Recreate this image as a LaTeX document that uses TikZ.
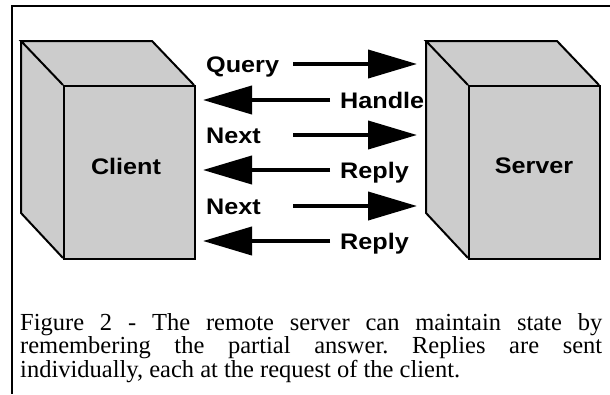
\documentclass[tikz,border=0pt]{standalone}
\usepackage{fontspec}
\setmainfont{Liberation Serif}
\newfontfamily\labfont[FakeStretch=1.12]{Liberation Sans}
\usetikzlibrary{arrows.meta}
\definecolor{boxgray}{HTML}{CCCCCC}
\begin{document}
\begin{tikzpicture}[x=1pt,y=-1pt,
  frame/.style={line width=2.8pt},
  edge/.style={line width=2pt, line join=miter},
  face/.style={draw, line width=2pt, fill=boxgray, inner sep=0pt,
    minimum width=131pt, minimum height=173pt, anchor=north west},
  lab/.style={font=\labfont\bfseries\fontsize{22.5}{26}\selectfont, inner sep=0pt},
  arr/.style={line width=4pt, -{Triangle[length=49pt,width=28pt]}},
]
\useasboundingbox (0,0) rectangle (610,394);
% frame
\draw[frame] (610,6) -- (12,6) -- (12,394);
% client cube
\fill[boxgray] (21,41) -- (152,41) -- (194,85) -- (194,258) -- (63,258) -- (21,213) -- cycle;
\draw[edge] (63,85) -- (21,41) -- (152,41) -- (194,85);
\draw[edge] (21,41) -- (21,213) -- (63,258);
\node[face] (client) at (63,85) {};
\node[lab] (clientlabel) at (126,166) {Client};
% server cube
\fill[boxgray] (426,41) -- (557,41) -- (599,85) -- (599,258) -- (468,258) -- (426,213) -- cycle;
\draw[edge] (468,85) -- (426,41) -- (557,41) -- (599,85);
\draw[edge] (426,41) -- (426,213) -- (468,258);
\node[face] (server) at (468,85) {};
\node[lab] (serverlabel) at (534,166) {Server};
% labels
\node[lab, anchor=base west] (query) at (206,72) {Query};
\node[lab, anchor=base west] (handle) at (340,108) {Handle};
\node[lab, anchor=base west] (next1) at (206,143) {Next};
\node[lab, anchor=base west] (reply1) at (340,178) {Reply};
\node[lab, anchor=base west] (next2) at (206,214) {Next};
\node[lab, anchor=base west] (reply2) at (340,249) {Reply};
% arrow ends
\coordinate (qs) at (293,64);  \coordinate (qe) at (417,64);
\coordinate (hs) at (330,100); \coordinate (he) at (203,100);
\coordinate (n1s) at (293,135); \coordinate (n1e) at (417,135);
\coordinate (r1s) at (330,170); \coordinate (r1e) at (203,170);
\coordinate (n2s) at (293,206); \coordinate (n2e) at (417,206);
\coordinate (r2s) at (330,241); \coordinate (r2e) at (203,241);
\draw[arr] (qs) -- (qe);
\draw[arr] (hs) -- (he);
\draw[arr] (n1s) -- (n1e);
\draw[arr] (r1s) -- (r1e);
\draw[arr] (n2s) -- (n2e);
\draw[arr] (r2s) -- (r2e);
% caption
\node[anchor=north west, text width=582pt, align=justify, inner sep=0pt,
  font=\fontsize{24.5}{23.5}\selectfont] (caption) at (20,313)
  {\tolerance=10000\frenchspacing Figure 2 - The remote server can maintain state by\linebreak
   remembering the partial answer. Replies are sent\linebreak
   individually, each at the request of the client.};
\end{tikzpicture}
\end{document}
